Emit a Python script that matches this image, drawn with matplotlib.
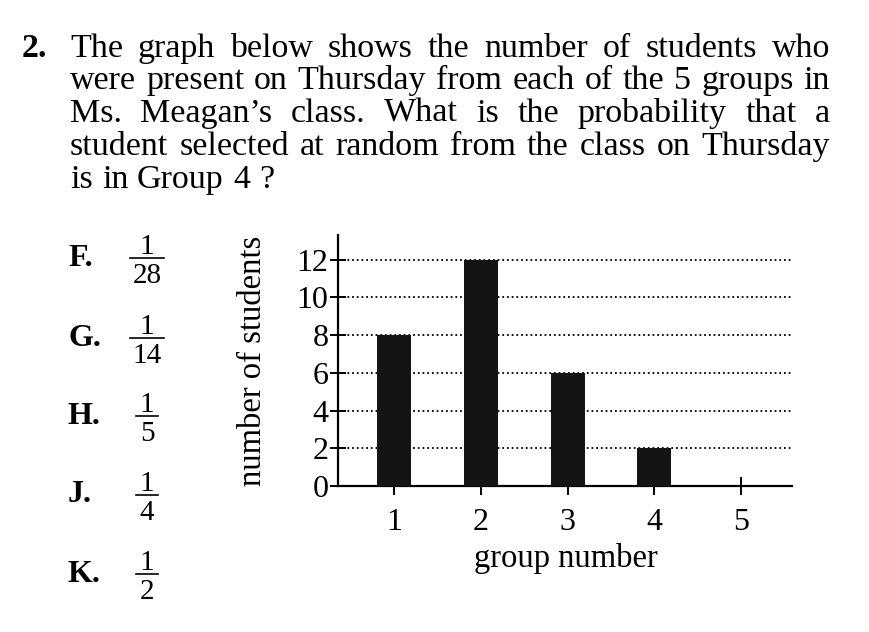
import matplotlib
matplotlib.use("Agg")
import matplotlib.pyplot as plt
from matplotlib.lines import Line2D

W, H = 869, 632
SERIF = "Liberation Serif"

# chart data
groups = [1, 2, 3, 4, 5]
students = [8, 12, 6, 2, 0]
y_ticks = [0, 2, 4, 6, 8, 10, 12]

# question text and answer choices
question_number = "2."
question_lines = [
    "The graph below shows the number of students who",
    "were present on Thursday from each of the 5 groups in",
    "Ms. Meagan\u2019s class. What is the probability that a",
    "student selected at random from the class on Thursday",
    "is in Group 4 ?",
]
choice_letters = ["F.", "G.", "H.", "J.", "K."]
choice_num = ["1", "1", "1", "1", "1"]
choice_den = ["28", "14", "5", "4", "2"]


def fx(x):
    return x / W


def fy(y):
    return 1 - y / H


fig = plt.figure(figsize=(W / 100, H / 100), dpi=100)
fig.patch.set_facecolor("white")

# bar chart
ax = fig.add_axes([fx(338), fy(486), fx(792) - fx(338), (486 - 235) / H])
ax.bar(groups, students, width=0.39, color="#141414", zorder=3)
ax.set_xlim(0.353, 5.586)
ax.set_ylim(0, 13.3)
ax.set_xticks(groups)
ax.set_yticks(y_ticks)
for t in y_ticks[1:]:
    ax.axhline(t, color="black", lw=1.3, ls=(0, (1, 1.6)), zorder=1)

ax.spines["top"].set_visible(False)
ax.spines["right"].set_visible(False)
ax.spines["left"].set_linewidth(1.6)
ax.spines["bottom"].set_linewidth(1.6)
ax.tick_params(axis="y", direction="inout", length=12, width=1.4, pad=1,
               labelsize=23)
ax.tick_params(axis="x", direction="inout", length=13, width=1.4, pad=9,
               labelsize=23)
for lab in ax.get_xticklabels() + ax.get_yticklabels():
    lab.set_family(SERIF)

fig.text(fx(566), fy(558), "group number", family=SERIF, fontsize=23.5,
         ha="center", va="center")
fig.text(fx(253), fy(361), "number of students", family=SERIF, fontsize=23.5,
         ha="center", va="center", rotation=90)

# question text, justified like the printed page
fig.text(fx(22), fy(57), question_number, family=SERIF, fontsize=24.5,
         fontweight="bold", va="baseline")
fig.canvas.draw()
r = fig.canvas.get_renderer()
baselines = [57, 89, 122, 155, 188]
left, right = 70, 830
for i, line in enumerate(question_lines):
    words = line.split()
    texts = [fig.text(0, fy(baselines[i]), w, family=SERIF, fontsize=24.5,
                      va="baseline") for w in words]
    widths = [t.get_window_extent(r).width for t in texts]
    if i < len(question_lines) - 1:
        gap = (right - left - sum(widths)) / (len(words) - 1)
    else:
        gap = 9
    x = left
    for t, w in zip(texts, widths):
        t.set_x(fx(x))
        x += w + gap

# answer choices
bar_y = [258, 338, 416, 495, 574]
for letter, num, den, y in zip(choice_letters, choice_num, choice_den, bar_y):
    fig.text(fx(68), fy(y), letter, family=SERIF, fontsize=23,
             fontweight="bold", va="center")
    fig.text(fx(147), fy(y - 11), num, family=SERIF, fontsize=21,
             ha="center", va="center")
    fig.text(fx(147), fy(y + 18), den, family=SERIF, fontsize=21,
             ha="center", va="center")
    half = 17 if len(den) > 1 else 11
    fig.add_artist(Line2D([fx(147 - half), fx(147 + half)], [fy(y), fy(y)],
                          transform=fig.transFigure, color="black", lw=1.2))

fig.savefig("out.png", dpi=100)
